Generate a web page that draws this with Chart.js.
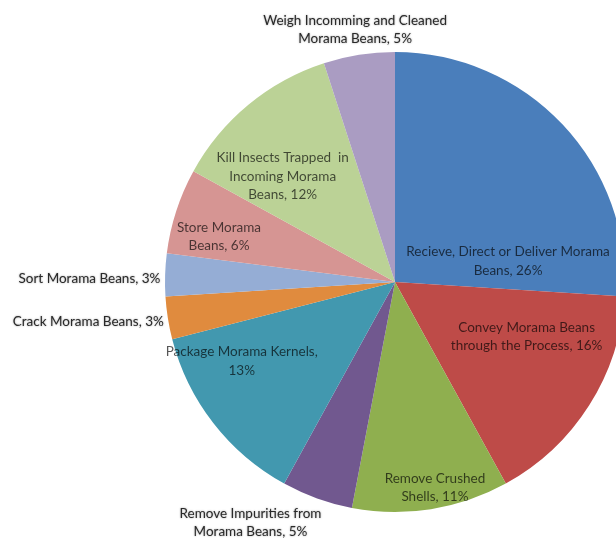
<!DOCTYPE html>
<html>
<head>
<meta charset="utf-8">
<script src="https://cdn.jsdelivr.net/npm/chart.js@4.4.0/dist/chart.umd.min.js"></script>
<style>
  html, body { margin: 0; padding: 0; background: #fff; overflow: hidden; }
  #wrap { position: absolute; left: 0; top: 0; width: 790px; height: 564px; }
</style>
</head>
<body>
<div id="wrap"><canvas id="pie" width="790" height="564"></canvas></div>
<script>
// Activities, clockwise from 12 o'clock
const categories = [
    ['Recieve, Direct or Deliver Morama', 'Beans'],
    ['Convey Morama Beans', 'through the Process'],
    ['Remove Crushed', 'Shells'],
    ['Remove Impurities from', 'Morama Beans'],
    ['Package Morama Kernels,', ''],
    ['Crack Morama Beans'],
    ['Sort Morama Beans'],
    ['Store Morama', 'Beans'],
    ['Kill Insects Trapped  in', 'Incoming Morama', 'Beans'],
    ['Weigh Incomming and Cleaned', 'Morama Beans']
];
const shares = [26, 16, 11, 5, 13, 3, 3, 6, 12, 5];
const sliceColors = ['#4A7EBB', '#BE4B48', '#8FAF4F', '#71588F', '#4298AF',
                     '#E08B3E', '#95ADD5', '#D69593', '#BBD296', '#AA9CC2'];

// label anchor: angle from top (deg, clockwise), distance as fraction of radius, alignment
const labelPlacement = [
    [79.5, 0.50, 'center'], [112.6, 0.62, 'center'], [169, 0.91, 'center'],
    [211, 1.22, 'center'], [242.7, 0.75, 'center'], [260.2, 1.02, 'right'],
    [270.7, 1.02, 'right'], [284.4, 0.79, 'center'], [313.2, 0.67, 'center'],
    [351, 1.11, 'center']
];

function labelLines(i) {
    const lines = categories[i].slice();
    const pct = shares[i] + '%';
    const last = lines[lines.length - 1];
    if (last === '') lines[lines.length - 1] = pct;
    else lines[lines.length - 1] = last + ', ' + pct;
    return lines;
}

const sliceLabels = {
    id: 'sliceLabels',
    afterDatasetsDraw(chart) {
        const ctx = chart.ctx;
        const arc = chart.getDatasetMeta(0).data[0];
        const cx = arc.x, cy = arc.y, r = arc.outerRadius;
        const lineH = 18.5;
        ctx.save();
        ctx.font = '13.5px Lato, "Open Sans", sans-serif';
        ctx.textBaseline = 'middle';
        labelPlacement.forEach((p, i) => {
            const a = p[0] * Math.PI / 180;
            const x = cx + Math.sin(a) * r * p[1];
            const y = cy - Math.cos(a) * r * p[1];
            const lines = labelLines(i);
            const outside = p[1] > 1;
            ctx.textAlign = p[2];
            ctx.fillStyle = outside ? '#2a2a2a' : 'rgba(0,0,0,0.66)';
            if (outside) {
                ctx.shadowColor = 'rgba(0,0,0,0.4)';
                ctx.shadowBlur = 2;
            } else {
                ctx.shadowBlur = 0;
            }
            lines.forEach((ln, k) => {
                ctx.fillText(ln, x, y + (k - (lines.length - 1) / 2) * lineH);
            });
        });
        ctx.restore();
    }
};

new Chart(document.getElementById('pie').getContext('2d'), {
    type: 'pie',
    data: {
        labels: categories.map(c => c.join(' ')),
        datasets: [{
            data: shares,
            backgroundColor: sliceColors,
            borderWidth: 0
        }]
    },
    options: {
        responsive: false,
        animation: false,
        layout: { padding: { top: 52, bottom: 52 } },
        plugins: {
            legend: { display: false },
            tooltip: { enabled: false }
        }
    },
    plugins: [sliceLabels]
});
</script>
</body>
</html>
